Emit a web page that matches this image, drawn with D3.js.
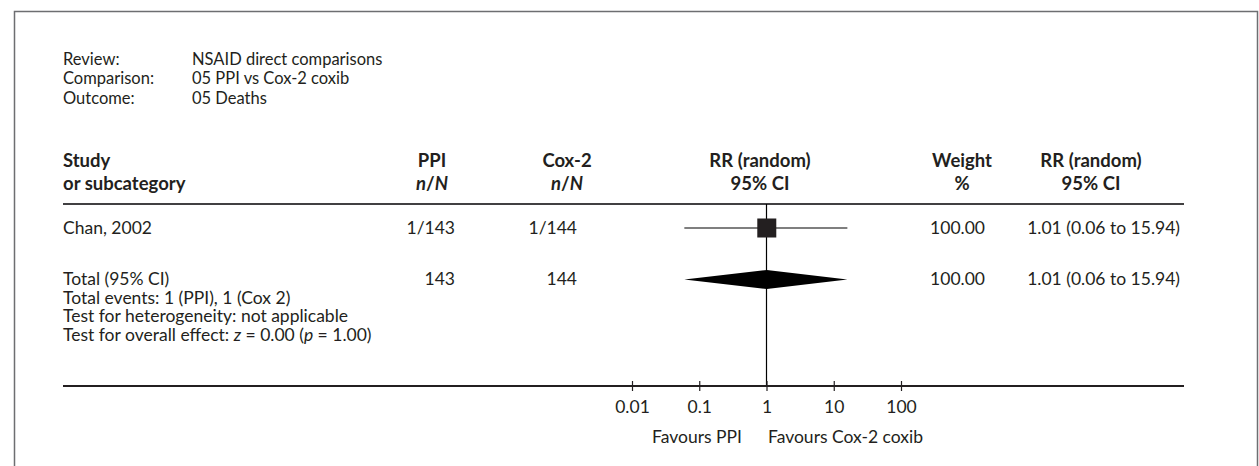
<!DOCTYPE html>
<html><head><meta charset="utf-8">
<script src="https://cdn.jsdelivr.net/npm/d3@7"></script>
<style>
html,body{margin:0;padding:0;background:#fff;}
svg text{font-family:Lato,"Open Sans",sans-serif;fill:#231f20;}
</style></head>
<body><svg id="c" width="1259" height="466"></svg>
<script>
// ---- data ----
const metaLabels = ["Review:", "Comparison:", "Outcome:"];
const metaValues = ["NSAID direct comparisons", "05 PPI vs Cox-2 coxib", "05 Deaths"];
const studies = ["Chan, 2002"];
const ppiNN = ["1/143"];
const coxNN = ["1/144"];
const studyRR = [1.01];
const studyLo = [0.06];
const studyHi = [15.94];
const studyWeight = ["100.00"];
const studyCI = ["1.01 (0.06 to 15.94)"];
const totalLabel = "Total (95% CI)";
const totalPPI = "143";
const totalCox = "144";
const totalRR = 1.01, totalLo = 0.06, totalHi = 15.94;
const totalWeight = "100.00";
const totalCI = "1.01 (0.06 to 15.94)";
const footnotes = ["Total events: 1 (PPI), 1 (Cox 2)", "Test for heterogeneity: not applicable"];
const tickValues = [0.01, 0.1, 1, 10, 100];
const tickLabels = ["0.01", "0.1", "1", "10", "100"];
const favours = ["Favours PPI", "Favours Cox-2 coxib"];

// ---- drawing ----
const svg = d3.select("#c");
const FS = 17.5, HFS = 18.5, MFS = 16.5;
const x = d3.scaleLog().domain([0.01, 100]).range([632, 901]);

// frame
svg.append("path").attr("d", "M14.5,470 V11.5 H1257.5 V470")
  .attr("fill", "none").attr("stroke", "#6d6e71").attr("stroke-width", 1.5);

// meta
const mx = 63, mvx = 192;
metaLabels.forEach((t, i) => {
  svg.append("text").attr("x", mx).attr("y", 64.5 + i * 19.8).attr("font-size", MFS).text(t);
  svg.append("text").attr("x", mvx).attr("y", 64.5 + i * 19.8).attr("font-size", MFS).text(metaValues[i]);
});

// column headers
const hy1 = 167, hy2 = 190;
const hdr = (xx, l1, l2, anchor, italic2) => {
  svg.append("text").attr("x", xx).attr("y", hy1).attr("font-size", HFS).attr("font-weight", "bold").attr("text-anchor", anchor).text(l1);
  const t = svg.append("text").attr("x", xx).attr("y", hy2).attr("font-size", HFS).attr("font-weight", "bold").attr("text-anchor", anchor);
  if (italic2) {
    t.append("tspan").attr("font-style", "italic").text("n");
    t.append("tspan").text("/");
    t.append("tspan").attr("font-style", "italic").text("N");
  } else t.text(l2);
};
hdr(mx, "Study", "or subcategory", "start");
hdr(432, "PPI", "", "middle", true);
hdr(567, "Cox-2", "", "middle", true);
hdr(760, "RR (random)", "95% CI", "middle");
hdr(962, "Weight", "%", "middle");
hdr(1091, "RR (random)", "95% CI", "middle");

// separator line
svg.append("line").attr("x1", mx).attr("x2", 1184).attr("y1", 204).attr("y2", 204)
  .attr("stroke", "#414042").attr("stroke-width", 2);

// vertical line of no effect
svg.append("line").attr("x1", x(1)).attr("x2", x(1)).attr("y1", 204).attr("y2", 386)
  .attr("stroke", "#000").attr("stroke-width", 1.2);

// study rows
const rowY = [234];
studies.forEach((s, i) => {
  const by = rowY[i], cy = by - 6;
  svg.append("text").attr("x", mx).attr("y", by).attr("font-size", FS).text(s);
  svg.append("text").attr("x", 455).attr("y", by).attr("font-size", FS).attr("text-anchor", "end").text(ppiNN[i]);
  svg.append("text").attr("x", 577).attr("y", by).attr("font-size", FS).attr("text-anchor", "end").text(coxNN[i]);
  svg.append("text").attr("x", 985).attr("y", by).attr("font-size", FS).attr("text-anchor", "end").text(studyWeight[i]);
  svg.append("text").attr("x", 1180).attr("y", by).attr("font-size", FS).attr("text-anchor", "end").text(studyCI[i]);
  svg.append("line").attr("x1", x(studyLo[i])).attr("x2", x(studyHi[i])).attr("y1", cy).attr("y2", cy)
    .attr("stroke", "#000").attr("stroke-width", 1.2);
  const sz = 19;
  svg.append("rect").attr("x", x(studyRR[i]) - sz / 2).attr("y", cy - sz / 2).attr("width", sz).attr("height", sz)
    .attr("fill", "#231f20");
});

// total row
const ty = 285, tcy = 279.5;
svg.append("text").attr("x", mx).attr("y", ty).attr("font-size", FS).text(totalLabel);
svg.append("text").attr("x", 455).attr("y", ty).attr("font-size", FS).attr("text-anchor", "end").text(totalPPI);
svg.append("text").attr("x", 577).attr("y", ty).attr("font-size", FS).attr("text-anchor", "end").text(totalCox);
svg.append("text").attr("x", 985).attr("y", ty).attr("font-size", FS).attr("text-anchor", "end").text(totalWeight);
svg.append("text").attr("x", 1180).attr("y", ty).attr("font-size", FS).attr("text-anchor", "end").text(totalCI);
const dh = 9.5;
svg.append("path")
  .attr("d", `M${x(totalLo)},${tcy} L${x(totalRR)},${tcy - dh} L${x(totalHi)},${tcy} L${x(totalRR)},${tcy + dh} Z`)
  .attr("fill", "#000");

// footnotes
footnotes.forEach((f, i) => {
  svg.append("text").attr("x", mx).attr("y", 303.5 + i * 18.5).attr("font-size", FS).text(f);
});
{
  const t = svg.append("text").attr("x", mx).attr("y", 303.5 + 2 * 18.5).attr("font-size", FS);
  t.append("tspan").text("Test for overall effect: ");
  t.append("tspan").attr("font-style", "italic").text("z");
  t.append("tspan").text(" = 0.00 (");
  t.append("tspan").attr("font-style", "italic").text("p");
  t.append("tspan").text(" = 1.00)");
}

// axis
svg.append("line").attr("x1", mx).attr("x2", 1184).attr("y1", 386).attr("y2", 386)
  .attr("stroke", "#231f20").attr("stroke-width", 2);
const axis = d3.axisBottom(x).tickValues(tickValues).tickSize(5).tickPadding(0)
  .tickFormat((d, i) => tickLabels[i]);
const ag = svg.append("g").attr("transform", "translate(0,386)").call(axis);
ag.select(".domain").remove();
ag.selectAll(".tick line").attr("y1", -5).attr("y2", 5).attr("stroke", "#231f20").attr("stroke-width", 1.2);
ag.selectAll(".tick text").attr("y", 27).attr("dy", 0).attr("font-size", FS)
  .attr("font-family", "Lato,'Open Sans',sans-serif").attr("fill", "#231f20");

svg.append("text").attr("x", 742).attr("y", 443).attr("font-size", FS).attr("text-anchor", "end").text(favours[0]);
svg.append("text").attr("x", 768).attr("y", 443).attr("font-size", FS).text(favours[1]);
</script></body></html>
